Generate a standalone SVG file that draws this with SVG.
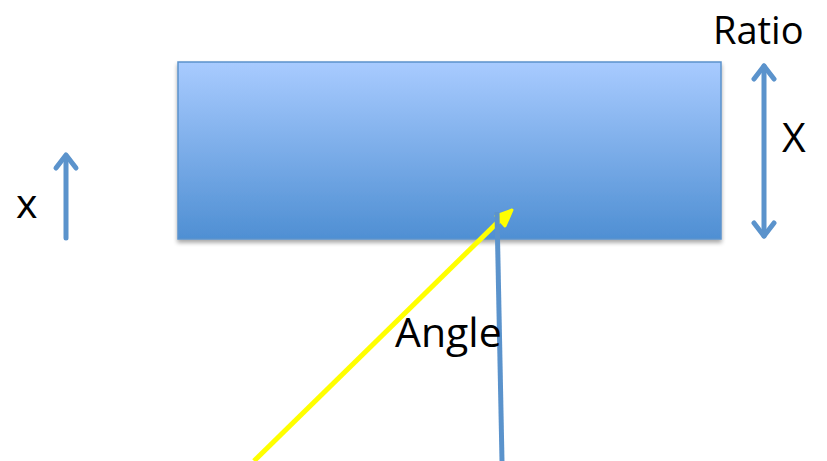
<svg xmlns="http://www.w3.org/2000/svg" width="827" height="461" viewBox="0 0 827 461">
<defs>
<linearGradient id="g" x1="0" y1="0" x2="0" y2="1">
<stop offset="0" stop-color="#a8cbff"/>
<stop offset="1" stop-color="#4f8fd3"/>
</linearGradient>
<filter id="sh" x="-5%" y="-5%" width="110%" height="120%">
<feGaussianBlur in="SourceAlpha" stdDeviation="2"/>
<feOffset dy="3"/>
<feComponentTransfer><feFuncA type="linear" slope="0.35"/></feComponentTransfer>
<feMerge><feMergeNode/><feMergeNode in="SourceGraphic"/></feMerge>
</filter>
<style>
.t{font-family:"Open Sans","Liberation Sans",sans-serif;font-size:41px;fill:#000}
.b{stroke:#5b93cc;stroke-width:5;fill:none;stroke-linecap:round;stroke-linejoin:round}
.y{stroke:#ffff00;stroke-width:5;fill:none}
</style>
</defs>
<g id="block">
<rect x="178" y="62" width="543" height="177" fill="url(#g)" stroke="#5b93cc" stroke-width="1.5" filter="url(#sh)"/>
</g>
<g id="connectors">
<line class="b" x1="66" y1="238" x2="66" y2="156"/>
<polyline class="b" points="56,168 66,155 76,168"/>
<line class="b" x1="764" y1="66" x2="764" y2="236"/>
<polyline class="b" points="754,79 764,66 774,79"/>
<polyline class="b" points="754,223 764,236 774,223"/>
<line class="y" x1="254" y1="461" x2="500" y2="220"/>
<polygon points="512,210 496,216 505,226" fill="#ffff00" stroke="#ffff00" stroke-width="3" stroke-linejoin="round"/>
<line stroke="#5b93cc" stroke-width="5" x1="497" y1="212" x2="502" y2="461"/>
</g>
<g id="labels">
<text class="t" x="713" y="44" style="font-size:38px">Ratio</text>
<text class="t" x="782" y="152">X</text>
<text class="t" x="16" y="218">x</text>
<text class="t" x="395" y="347">Angle</text>
</g>
</svg>
